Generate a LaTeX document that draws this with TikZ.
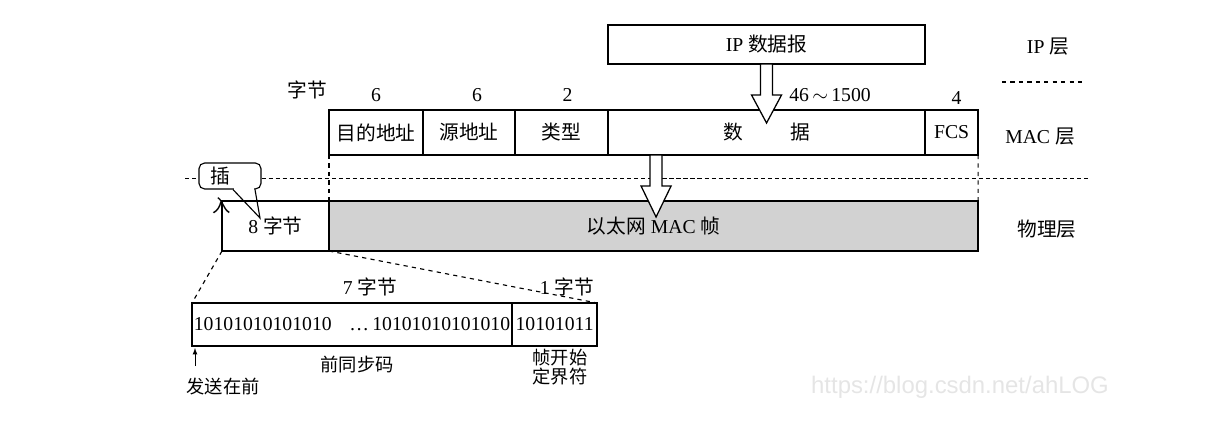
\documentclass[tikz,border=0pt]{standalone}
\usepackage{fontspec}
\setmainfont{Liberation Serif}
\newfontfamily\cjk{Noto Sans CJK SC}
\newfontfamily\wmfont{Liberation Sans}
\usetikzlibrary{calc, positioning}

\tikzset{
  field/.style={draw, line width=1.2pt, inner sep=0pt, outer sep=0pt, minimum height=1.125cm},
  num/.style={inner sep=1pt},
  dotline/.style={densely dashed, line width=0.6pt},
  guide/.style={dashed, line width=0.8pt},
  hollow/.style={draw, fill=white, line width=0.9pt, line join=miter},
}

% hollow arrow pointing down: start, shaft length, head length (in px units)
\newcommand{\hollowdown}[3]{%
  \draw[hollow] (#1) ++(-6,0) -- ++(0,#2) -- ++(-9,0) -- ++(15,#3)
    -- ++(15,-#3) -- ++(-9,0) -- ++(0,-#2) -- cycle;}

\begin{document}
\begin{tikzpicture}[x=0.025cm, y=-0.025cm, node distance=0pt, >=latex,
    font=\fontsize{14}{16}\selectfont]
    \useasboundingbox (0,0) rectangle (1206,425);

    % 1. IP datagram
    \node[field, minimum width=7.925cm, minimum height=0.975cm, anchor=north west] (ip) at (608,25) {IP {\cjk 数据报}};

    % 2. MAC frame fields
    \node[field, minimum width=2.35cm, anchor=north west] (dst) at (329,110) {\cjk 目的地址};
    \node[field, minimum width=2.3cm, right=of dst] (src) {\cjk 源地址};
    \node[field, minimum width=2.325cm, right=of src] (type) {\cjk 类型};
    \node[field, minimum width=7.925cm, right=of type] (data) {\cjk 数\hspace{2.4em}据};
    \node[field, minimum width=1.325cm, right=of data] (fcs) {FCS};

    % field lengths
    \node[num] (unit) at (307,90) {\cjk 字节};
    \node[num, above=5pt of dst] (ndst) {6};
    \node[num, above=5pt of src, xshift=0.2cm] (nsrc) {6};
    \node[num, above=5pt of type, xshift=0.15cm] (ntype) {2};
    \node[num] (ndata) at (830,95) {46\,$\sim$\,1500};
    \node[num, above=3pt of fcs, xshift=0.12cm] (nfcs) {4};

    % 3. physical layer frame
    \node[field, fill=gray!35, minimum width=16.225cm, minimum height=1.25cm, anchor=north west] (phys) at (329,201) {{\cjk 以太网} MAC {\cjk 帧}};
    \node[field, minimum width=2.675cm, minimum height=1.25cm, left=of phys] (pre8) {8 {\cjk 字节}};

    % separator and guides
    \coordinate (sepL) at (185,178);
    \coordinate (sepR) at (1090,178);
    \node[draw, rounded corners=4pt, line width=0.8pt, fill=white, minimum width=1.55cm, minimum height=0.65cm, inner sep=0pt] (ins) at (230,176) {{\cjk 插}\kern14pt};
    \draw[dotline] (sepL) -- (sepL -| ins.west);
    \draw[dotline] (sepL -| ins.east) -- (sepR);
    \draw[guide] (dst.south west) -- (phys.north west);
    \draw[guide] (fcs.south east) -- (phys.north east);

    % callout tail
    \coordinate (tip) at (260,218);
    \path (ins.south) ++(3,0) coordinate (tl) (ins.south) ++(25,0) coordinate (tr);
    \fill[white] ($(tl)+(0.8,-1.5)$) rectangle ($(tr)+(-0.8,1.5)$);
    \draw[line width=0.8pt] (tl) -- (tip) -- (tr);
    \node[inner sep=0pt, font=\cjk\fontsize{13}{13}\selectfont] (ru) at (222,206) {入};
    \draw[line width=0.8pt] (pre8.south west) -- (ru.center);

    % 4. hollow arrows
    \hollowdown{ip.south}{31}{28}
    \hollowdown{$(data.south west)+(48,0)$}{31}{31}

    % 5. preamble and SFD
    \node[field, minimum width=8cm, minimum height=1.075cm, anchor=north west] (pream) at (192,303) {10101010101010\hspace{0.9em}\ldots\,10101010101010};
    \node[field, minimum width=2.125cm, minimum height=1.075cm, right=of pream] (sfd) {10101011};
    \draw[guide] (pre8.south west) -- (pream.north west);
    \draw[guide] (pre8.south east) -- (sfd.north east);

    \node[num] (b7) at (370,287) {7 {\cjk 字节}};
    \node[num] (b1) at (567,287) {1 {\cjk 字节}};
    \node[num, font=\cjk\fontsize{13}{14}\selectfont] (sync) at (357,365) {前同步码};
    \node[num, align=center, font=\cjk\fontsize{13}{14}\selectfont] (sfdlbl) at (560,367) {帧开始\\定界符};
    \node[num, font=\cjk\fontsize{13}{14}\selectfont] (first) at (223,387) {发送在前};
    \draw[->, line width=0.6pt] ($(pream.south west)+(3,20)$) -- ($(pream.south west)+(3,2)$);

    % 6. layer names
    \node (lip) at (1048,47) {IP {\cjk 层}};
    \draw[dashed, line width=0.8pt] (1002,82) -- (1083,82);
    \node (lmac) at (1040,137) {MAC {\cjk 层}};
    \node (lphy) at (1047,229) {\cjk 物理层};

    % watermark
    \node[text=gray!20, font=\wmfont\fontsize{17}{17}\selectfont] (wm) at (960,387) {https://blog.csdn.net/ahLOG};
\end{tikzpicture}
\end{document}
